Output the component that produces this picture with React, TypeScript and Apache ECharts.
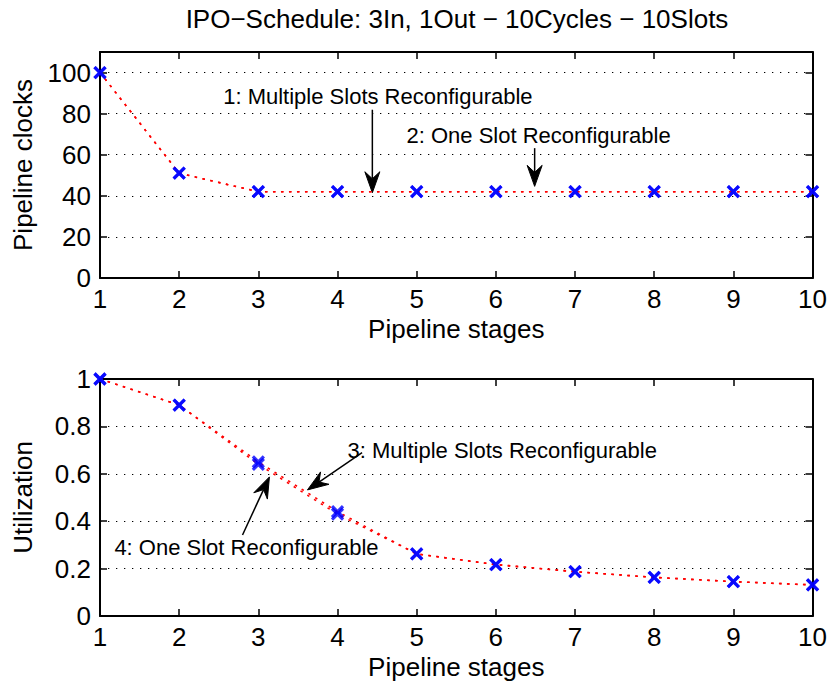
import React, { useEffect, useRef } from "react";
import * as echarts from "echarts";

const stages = [1, 2, 3, 4, 5, 6, 7, 8, 9, 10];
const clocksMulti = [100, 51, 42, 42, 42, 42, 42, 42, 42, 42];
const clocksOne = [100, 51, 42, 42, 42, 42, 42, 42, 42, 42];
const utilMulti = [1, 0.89, 0.65, 0.44, 0.262, 0.217, 0.187, 0.163, 0.145, 0.131];
const utilOne = [1, 0.89, 0.64, 0.43, 0.262, 0.217, 0.187, 0.163, 0.145, 0.131];
const clockTicks = [0, 20, 40, 60, 80, 100];
const utilTicks = [0, 0.2, 0.4, 0.6, 0.8, 1];

const titleText = "IPO\u2212Schedule: 3In, 1Out \u2212 10Cycles \u2212 10Slots";
const xName = "Pipeline stages";
const yNameTop = "Pipeline clocks";
const yNameBottom = "Utilization";

// annotations in data coordinates: [stage, value]
const annotations = [
  { grid: 0, text: "1: Multiple Slots Reconfigurable", textAt: [4.51, 88.2], from: [4.44, 81.9], to: [4.44, 41.5] },
  { grid: 0, text: "2: One Slot Reconfigurable", textAt: [6.54, 69.2], from: [6.49, 63.2], to: [6.49, 44.6] },
  { grid: 1, text: "3: Multiple Slots Reconfigurable", textAt: [6.08, 0.697], from: [4.31, 0.689], to: [3.62, 0.532] },
  { grid: 1, text: "4: One Slot Reconfigurable", textAt: [2.85, 0.287], from: [2.8, 0.342], to: [3.14, 0.587] },
];

const FONT = "'Liberation Sans', Arial, Helvetica, sans-serif";
const GRID_LEFT = 100;
const GRID_RIGHT = 16;
const W = 830;
const H = 683;

const pair = (xs: number[], ys: number[]) => xs.map((x, i) => [x, ys[i]]);
const X_SYMBOL = "path://M0,0L10,10M10,0L0,10";

export default function App() {
  const ref = useRef<HTMLDivElement>(null);
  useEffect(() => {
    document.body.style.margin = "0";
    if (!ref.current) return;
    const chart = echarts.init(ref.current, undefined, { renderer: "svg" });

    const grids = [
      { left: GRID_LEFT, right: GRID_RIGHT, top: 52, height: 226 },
      { left: GRID_LEFT, right: GRID_RIGHT, top: 379, height: 237 },
    ];

    const axisLine = { show: true, onZero: false, lineStyle: { color: "#000", width: 2 } };
    const tick = { show: true, inside: true, length: 7, lineStyle: { color: "#000", width: 1.5 } };
    const labelStyle = { color: "#000", fontSize: 26, fontFamily: FONT };

    const xAxes: any[] = [];
    const yAxes: any[] = [];
    [0, 1].forEach((g) => {
      xAxes.push({
        type: "value", gridIndex: g, position: "bottom", min: stages[0], max: stages[stages.length - 1], interval: 1,
        axisLine, axisTick: tick, splitLine: { show: false },
        axisLabel: { ...labelStyle, margin: 8 },
        name: xName, nameLocation: "middle", nameGap: 38,
        nameTextStyle: { ...labelStyle },
      });
      xAxes.push({
        type: "value", gridIndex: g, position: "top", min: stages[0], max: stages[stages.length - 1], interval: 1,
        axisLine, axisTick: tick, splitLine: { show: false }, axisLabel: { show: false },
      });
    });
    const yRanges = [
      { min: 0, max: 110, interval: clockTicks[1] - clockTicks[0], name: yNameTop },
      { min: 0, max: 1, interval: utilTicks[1] - utilTicks[0], name: yNameBottom },
    ];
    yRanges.forEach((r, g) => {
      yAxes.push({
        type: "value", gridIndex: g, position: "left", min: r.min, max: r.max, interval: r.interval,
        axisLine, axisTick: tick,
        splitLine: { show: true, lineStyle: { color: "#000", width: 1.1, type: [1.3, 6.7] } },
        axisLabel: { ...labelStyle, margin: 9, showMaxLabel: g === 1 },
        name: r.name, nameLocation: "middle", nameGap: 64,
        nameTextStyle: { ...labelStyle },
      });
      yAxes.push({
        type: "value", gridIndex: g, position: "right", min: r.min, max: r.max, interval: r.interval,
        axisLine, axisTick: tick, splitLine: { show: false }, axisLabel: { show: false },
      });
    });

    const lineSeries = (data: number[][], xi: number, yi: number) => ({
      type: "line", xAxisIndex: xi, yAxisIndex: yi, data, smooth: false,
      showSymbol: false, symbol: "none", clip: false, z: 2,
      lineStyle: { color: "#ff0000", width: 1.6, type: [2.5, 5.5] },
    });
    const markSeries = (data: number[][], xi: number, yi: number) => ({
      type: "scatter", xAxisIndex: xi, yAxisIndex: yi, data, symbol: X_SYMBOL, symbolSize: 11, clip: false, z: 3,
      itemStyle: { color: "rgba(0,0,255,0)", borderColor: "#0000ff", borderWidth: 3.2 },
    });

    chart.setOption({
      animation: false,
      backgroundColor: "#fff",
      grid: grids,
      xAxis: xAxes,
      yAxis: yAxes,
      series: [
        lineSeries(pair(stages, clocksMulti), 0, 0),
        lineSeries(pair(stages, clocksOne), 0, 0),
        markSeries(pair(stages, clocksMulti), 0, 0),
        markSeries(pair(stages, clocksOne), 0, 0),
        lineSeries(pair(stages, utilMulti), 2, 2),
        lineSeries(pair(stages, utilOne), 2, 2),
        markSeries(pair(stages, utilMulti), 2, 2),
        markSeries(pair(stages, utilOne), 2, 2),
      ],
    });

    const toPx = (g: number, p: number[]) =>
      chart.convertToPixel({ xAxisIndex: g * 2, yAxisIndex: g * 2 } as any, p) as number[];

    const elements: any[] = [];
    const plotCenter = GRID_LEFT + (W - GRID_LEFT - GRID_RIGHT) / 2;
    elements.push({
      type: "text", x: plotCenter, y: 19,
      style: { text: titleText, fill: "#000", font: `26px ${FONT}`, align: "center", verticalAlign: "middle" },
    });
    annotations.forEach((a) => {
      const t = toPx(a.grid, a.textAt);
      const f = toPx(a.grid, a.from);
      const e = toPx(a.grid, a.to);
      elements.push({
        type: "text", x: t[0], y: t[1],
        style: { text: a.text, fill: "#000", font: `22px ${FONT}`, align: "center", verticalAlign: "middle" },
      });
      const dx = e[0] - f[0];
      const dy = e[1] - f[1];
      const len = Math.hypot(dx, dy);
      const ux = dx / len;
      const uy = dy / len;
      const nx = -uy;
      const ny = ux;
      const L = 21;
      const hw = 7.5;
      const notch = 7;
      const bx = e[0] - ux * L;
      const by = e[1] - uy * L;
      const mx = e[0] - ux * (L - notch);
      const my = e[1] - uy * (L - notch);
      elements.push({
        type: "line",
        shape: { x1: f[0], y1: f[1], x2: mx, y2: my },
        style: { stroke: "#000", lineWidth: 1.5 },
      });
      elements.push({
        type: "polygon",
        shape: { points: [[e[0], e[1]], [bx + nx * hw, by + ny * hw], [mx, my], [bx - nx * hw, by - ny * hw]] },
        style: { fill: "#000", stroke: "#000", lineWidth: 1 },
      });
    });
    chart.setOption({ graphic: { elements } });

    return () => chart.dispose();
  }, []);
  return <div ref={ref} style={{ width: W, height: H }} />;
}
